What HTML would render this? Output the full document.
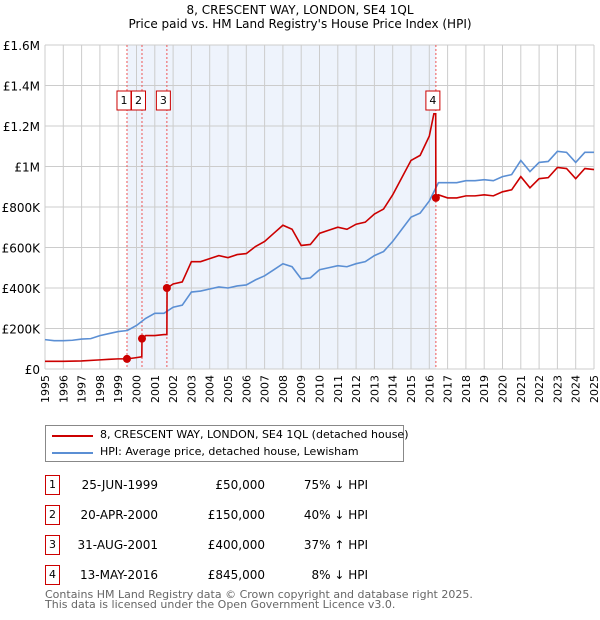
<!DOCTYPE html>
<html><head><meta charset="utf-8"><style>
body{margin:0;background:#fff;font-family:"DejaVu Sans","Liberation Sans",sans-serif;}
#wrap{position:relative;width:600px;height:620px;overflow:hidden}
.t{position:absolute;font-size:12px;color:#000;white-space:nowrap}
.box{position:absolute;width:13px;height:18px;border:1px solid #c00;font-size:11px;text-align:center;line-height:18px;background:#fff}
</style></head><body><div id="wrap">
<div class="t" style="left:0;width:600px;text-align:center;top:3px">8, CRESCENT WAY, LONDON, SE4 1QL<br>Price paid vs. HM Land Registry's House Price Index (HPI)</div>
<svg id="c" width="600" height="420" style="position:absolute;left:0;top:0"></svg>
<div style="position:absolute;left:45px;top:425px;width:357px;height:35px;border:1px solid #888">
<div style="position:absolute;left:6px;top:9px;width:41px;height:2px;background:#c00"></div>
<div class="t" style="left:54px;top:2px;font-size:11px">8, CRESCENT WAY, LONDON, SE4 1QL (detached house)</div>
<div style="position:absolute;left:6px;top:26px;width:41px;height:2px;background:#5b8fd4"></div>
<div class="t" style="left:54px;top:19px;font-size:11px">HPI: Average price, detached house, Lewisham</div>
</div>
<div id="tbl"></div>
<div class="t" style="left:45px;top:590px;font-size:11px;color:#666;line-height:10px">Contains HM Land Registry data © Crown copyright and database right 2025.<br>This data is licensed under the Open Government Licence v3.0.</div>
</div>
<script>
const hpiYears=[1995,1995.5,1996,1996.5,1997,1997.5,1998,1998.5,1999,1999.5,2000,2000.5,2001,2001.5,2002,2002.5,2003,2003.5,2004,2004.5,2005,2005.5,2006,2006.5,2007,2007.5,2008,2008.5,2009,2009.5,2010,2010.5,2011,2011.5,2012,2012.5,2013,2013.5,2014,2014.5,2015,2015.5,2016,2016.5,2017,2017.5,2018,2018.5,2019,2019.5,2020,2020.5,2021,2021.5,2022,2022.5,2023,2023.5,2024,2024.5,2025];
const hpiValues=[145,140,140,142,148,150,165,175,185,190,215,250,275,275,305,315,380,385,395,405,400,410,415,440,460,490,520,505,445,450,490,500,510,505,520,530,560,580,630,690,750,770,830,920,920,920,930,930,935,930,950,960,1030,975,1020,1025,1075,1070,1020,1070,1070];
const redYears=[1995,1996,1997,1998,1998.5,1999,1999.48,1999.9,2000.29,2000.3,2000.5,2001,2001.5,2001.66,2001.67,2002,2002.5,2003,2003.5,2004,2004.5,2005,2005.5,2006,2006.5,2007,2007.5,2008,2008.5,2009,2009.5,2010,2010.5,2011,2011.5,2012,2012.5,2013,2013.5,2014,2014.5,2015,2015.5,2016,2016.25,2016.35,2016.36,2016.5,2017,2017.5,2018,2018.5,2019,2019.5,2020,2020.5,2021,2021.5,2022,2022.5,2023,2023.5,2024,2024.5,2025];
const redValues=[38,38,40,45,48,50,50,55,60,150,165,165,170,170,400,420,430,530,530,545,560,550,565,570,605,630,670,710,690,610,615,670,685,700,690,715,725,765,790,860,945,1030,1055,1150,1260,1260,845,860,845,845,855,855,860,855,875,885,950,895,940,945,995,990,940,990,985];
const saleYears=[1999.48,2000.3,2001.66,2016.36];
const saleValues=[50,150,400,845];
const saleLabels=["1","2","3","4"];
const saleDates=["25-JUN-1999","20-APR-2000","31-AUG-2001","13-MAY-2016"];
const salePrices=["£50,000","£150,000","£400,000","£845,000"];
const saleHpi=["75% ↓ HPI","40% ↓ HPI","37% ↑ HPI","8% ↓ HPI"];
const yTicks=[0,200,400,600,800,1000,1200,1400,1600];
const yTickLabels=["£0","£200K","£400K","£600K","£800K","£1M","£1.2M","£1.4M","£1.6M"];
const x0=45,x1=594,y0=369,y1=45;
const X=y=>x0+(y-1995)/30*(x1-x0);
const Y=v=>y0-v/1600*(y0-y1);
const NS="http://www.w3.org/2000/svg",svg=document.getElementById('c');
function mk(t,a,p){const e=document.createElementNS(NS,t);for(const k in a)e.setAttribute(k,a[k]);(p||svg).appendChild(e);return e;}
let sh=mk('rect',{x:X(saleYears[0]),y:y1,width:X(saleYears[3])-X(saleYears[0]),height:y0-y1,fill:'#eef3fc'});

for(let yr=1995;yr<=2025;yr++){let g=mk('line',{x1:X(yr),x2:X(yr),y1:y1,y2:y0,stroke:'#ccc'});

let t=mk('text',{x:X(yr)+4,y:y0+6,transform:`rotate(-90 ${X(yr)+4} ${y0+6})`,'text-anchor':'end','font-size':11,'font-family':'DejaVu Sans,sans-serif'});t.textContent=yr;
}
yTicks.forEach((v,i)=>{let g=mk('line',{x1:x0,x2:x1,y1:Y(v),y2:Y(v),stroke:'#ccc'});

let t=mk('text',{x:40,y:Y(v)+5,'text-anchor':'end','font-size':12,'font-family':'DejaVu Sans,sans-serif'});t.textContent=yTickLabels[i];
});
saleYears.forEach(s=>{let l=mk('line',{x1:X(s),x2:X(s),y1:y1,y2:y0,stroke:'#e55','stroke-dasharray':'2,2'});
});
let hp=mk('polyline',{points:hpiYears.map((y,i)=>X(y)+','+Y(hpiValues[i])).join(' '),fill:'none',stroke:'#5b8fd4','stroke-width':1.6});

let rp=mk('polyline',{points:redYears.map((y,i)=>X(y)+','+Y(redValues[i])).join(' '),fill:'none',stroke:'#c00','stroke-width':1.6});

saleYears.forEach((s,i)=>{let c=mk('circle',{cx:X(s),cy:Y(saleValues[i]),r:4,fill:'#c00'});

let bx=X(s)+(i==0?-3:i==1?-3.5:i==2?-3.5:-3);
let r=mk('rect',{x:bx-7,y:91,width:14,height:19,fill:'#fff',stroke:'#c00'});

let t=mk('text',{x:bx,y:104,'text-anchor':'middle','font-size':11,'font-family':'DejaVu Sans,sans-serif'});t.textContent=saleLabels[i];
});
const tb=document.getElementById('tbl');
saleLabels.forEach((l,i)=>{const top=475+i*30;
let h=`<div class="box" style="left:45px;top:${top}px">${l}</div>
<div class="t" style="left:70px;width:88px;text-align:right;top:${top+3}px">${saleDates[i]}</div>
<div class="t" style="left:180px;width:85px;text-align:right;top:${top+3}px">${salePrices[i]}</div>
<div class="t" style="left:280px;width:88px;text-align:right;top:${top+3}px">${saleHpi[i]}</div>`;
const d=document.createElement('div');d.innerHTML=h;


tb.appendChild(d);});
</script></body></html>
